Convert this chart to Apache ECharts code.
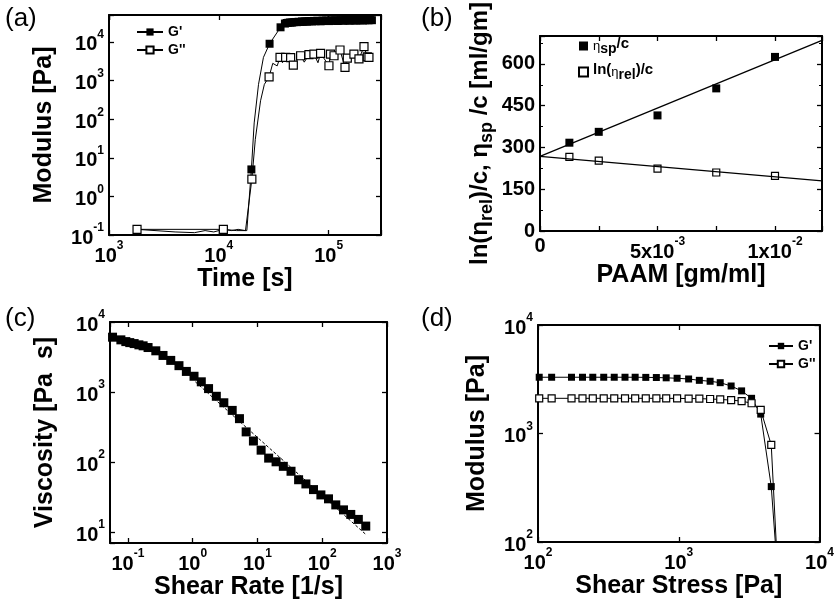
<!DOCTYPE html>
<html><head><meta charset="utf-8">
<script src="https://cdn.jsdelivr.net/npm/echarts@6/dist/echarts.min.js"></script>
<style>html,body{margin:0;padding:0;background:#fff}#c{width:837px;height:602px}</style>
</head><body><div id="c"></div><script>
// ---------- DATA ----------
// (a) Modulus vs time
const aGprime = [[1800,0.14],[11000,0.14],[14500,0.13,0],[18000,0.13,0],[19800,5],[21000,80,0],[23000,800,0],[25500,4000,0],[29000,9000],[36500,24000],
 [40000,30000],[41500,31000],[43000,31500],[44600,32000],[46200,31800],[47900,32500],[49600,33000],[51400,32600],[53300,33400],[55200,33000],
 [57200,34000],[59300,33500],[61400,34200],[63700,33800],[66000,34500],[68400,35000],[70900,34000],[73500,35200],[76100,34600],[78900,35500],
 [81800,35000],[84700,34300],[87800,35800],[91000,35200],[94300,36000],[97700,35400],[101000,34800],[105000,36200],[109000,35600],[113000,36500],
 [117000,35900],[121000,35000],[125000,36400],[130000,36800],[135000,35700],[140000,36200],[145000,37000],[150000,36400],[155000,35600],[161000,36900],
 [167000,37200],[173000,36300],[179000,35800],[186000,37000],[193000,36600],[200000,37400],[207000,36000],[215000,36800],[223000,37200],[231000,36500],
 [240000,37000],[248000,36700]];
const aGdouble = [[1800,0.14],[4000,0.12,0],[6000,0.115,0],[7500,0.13,0],[9000,0.12,0],[11000,0.14],[13000,0.13,0],[15000,0.14,0],[17500,0.13,0],
 [20000,2.8],[21500,30,0],[24000,300,0],[26000,800,0],[28700,1250],[31000,2800,0],[34000,2400,0],[36100,4000],[38000,2900,0],[40600,4000],[45100,3950],[47700,2500],
 [55600,4400],[60000,3000,0],[66200,4700],[73500,4870],[80000,2900,0],[84500,5070],[100700,2420],[104000,4870],[112000,4400],[127000,6200],
 [141000,2190],[148000,3800],[170000,4870],[189000,3630],[210000,7550],[225000,4100],[233000,4000]];
// (b) reduced / inherent viscosity vs concentration
const bConc = [0.00125,0.0025,0.005,0.0075,0.01];
const bEtaSpC = [317,356,415,512,625];
const bLnEtaRelC = [266,253,224,210,198];
const bFitSp = [[0,268],[0.012,684]];
const bFitRel = [[0,268],[0.012,180]];
// (c) viscosity vs shear rate
const cRate = [0.058,0.078,0.093,0.107,0.125,0.148,0.172,0.205,0.27,0.349,0.459,0.615,0.8,1.05,1.36,1.76,2.32,3.03,4.08,5.28,
 6.7,8.67,11.4,14.9,19.4,25.1,33,43.2,56,73.4,95.4,125,162,213,276,361,470];
const cVisc = [6070,5560,5250,5080,4920,4720,4570,4320,3880,3330,2830,2380,1970,1680,1400,1120,870,703,547,417,
 270,200,148,114,101,87,74,56,48.8,40.5,34,29.9,24.5,20.8,17.9,15.2,12.2];
const cPowerLaw = [[1.1,1400],[470,9.3]];
// (d) modulus vs shear stress
const dStress = [102,125,173,207,245,293,348,415,490,583,693,814,973,1175,1400,1670,1970,2355,2795,3290,3820,4540];
const dGprime = [3300,3300,3300,3300,3300,3300,3300,3300,3300,3290,3280,3260,3230,3180,3090,3030,2940,2740,2470,2110,1510,324];
const dGdouble = [2110,2110,2110,2110,2110,2110,2110,2110,2110,2110,2110,2110,2105,2100,2095,2080,2060,2030,1990,1900,1650,784];
const dEndStress = [4850,4920];
// tick labels for (b)
const bXTickLabels = {0:'0', 0.005:'{b|5x10}{e|-3}', 0.01:'{b|1x10}{e|-2}'};

// ---------- STYLE HELPERS ----------
const FONT = '"Liberation Sans", Arial, sans-serif';
const rich = {
  b:{fontSize:20,fontWeight:'bold',fontFamily:FONT,color:'#000',lineHeight:26,verticalAlign:'bottom'},
  e:{fontSize:12,fontWeight:'bold',fontFamily:FONT,color:'#000',lineHeight:13,verticalAlign:'top'}
};
function logLabel(v){ const e=Math.log10(v), r=Math.round(e); return Math.abs(e-r)<1e-3 ? '{b|10}{e|'+r+'}' : ''; }
const nameStyle = {fontSize:25,fontWeight:'bold',fontFamily:FONT,color:'#000'};
function mkAxis(grid, pos, type, min, max, extra){
  const isMain = (pos==='bottom'||pos==='left');
  const ax = {
    gridIndex:grid, position:pos, type:type, min:min, max:max,
    axisLine:{show:true,onZero:false,lineStyle:{color:'#000',width:2}},
    axisTick:{show:true,inside:true,length:5,lineStyle:{color:'#000',width:1.3}},
    splitLine:{show:false},
    axisLabel:{show:isMain,margin:5,color:'#000',fontSize:20,fontWeight:'bold',fontFamily:FONT,rich:rich},
    nameTextStyle:nameStyle, nameLocation:'middle'
  };
  if(type==='log'){ ax.logBase=10; ax.axisLabel.formatter=logLabel; }
  if(extra){ for(const k in extra){ if(k==='axisLabel'){Object.assign(ax.axisLabel, extra[k]);} else ax[k]=extra[k]; } }
  if(!isMain){ ax.name=''; }
  return ax;
}
function zip(xs, ys){ return xs.map((x,i)=>[x,ys[i]]); }
function pts(arr){ return arr.map(p => p.length>2 ? {value:[p[0],p[1]],symbol:'none'} : [p[0],p[1]]); }

const filled = {color:'#000',opacity:1};
const open = {color:'#fff',borderColor:'#000',borderWidth:1.2,opacity:1};
const lineS = {color:'#000',width:1};

const xAxes = [], yAxes = [];
// grid 0 (a)
xAxes.push(mkAxis(0,'bottom','log',1000,300000,{name:'Time [s]',nameGap:19}));
xAxes.push(mkAxis(0,'top','log',1000,300000));
yAxes.push(mkAxis(0,'left','log',0.1,50000,{name:'Modulus [Pa]',nameGap:52}));
yAxes.push(mkAxis(0,'right','log',0.1,50000));
// grid 1 (b)
const bx = {interval:0.0025,name:'PAAM [gm/ml]',nameGap:26,axisLabel:{formatter:v=>{for(const k in bXTickLabels){if(Math.abs(v-Number(k))<1e-6) return bXTickLabels[k];} return '';}}};
xAxes.push(mkAxis(1,'bottom','value',0,0.012,bx));
xAxes.push(mkAxis(1,'top','value',0,0.012,{interval:0.0025}));
yAxes.push(mkAxis(1,'left','value',0,700,{interval:150,minorTick:{show:true,splitNumber:2,length:3},
  name:'{m|ln(η}{s|rel}{m|)/c, η}{s|sp}{m| /c [ml/gm]}',nameGap:44,
  nameTextStyle:{rich:{m:{fontSize:24,fontWeight:'bold',fontFamily:FONT,color:'#000',lineHeight:32,verticalAlign:'middle'},
                        s:{fontSize:18,fontWeight:'bold',fontFamily:FONT,color:'#000',lineHeight:32,verticalAlign:'bottom'}}},
  axisLabel:{formatter:v=> v>650?'':String(v)}}));
yAxes.push(mkAxis(1,'right','value',0,700,{interval:150,minorTick:{show:true,splitNumber:2,length:3}}));
// grid 2 (c)
xAxes.push(mkAxis(2,'bottom','log',0.053,1000,{name:'Shear Rate [1/s]',nameGap:22}));
xAxes.push(mkAxis(2,'top','log',0.053,1000));
yAxes.push(mkAxis(2,'left','log',7,10000,{name:'Viscosity [Pa  s]',nameGap:52}));
yAxes.push(mkAxis(2,'right','log',7,10000));
// grid 3 (d)
xAxes.push(mkAxis(3,'bottom','log',100,10000,{name:'Shear Stress [Pa]',nameGap:23}));
xAxes.push(mkAxis(3,'top','log',100,10000));
yAxes.push(mkAxis(3,'left','log',100,10000,{name:'Modulus [Pa]',nameGap:48}));
yAxes.push(mkAxis(3,'right','log',100,10000));

const option = {
  animation:false,
  backgroundColor:'#fff',
  grid:[
    {left:109,top:15,width:272,height:220},
    {left:540,top:17,width:282,height:214},
    {left:110,top:322,width:277,height:221},
    {left:538,top:325,width:284,height:217}
  ],
  xAxis:xAxes, yAxis:yAxes,
  legend:[
    {left:131,top:20,orient:'vertical',itemGap:4,itemWidth:26,itemHeight:9,selectedMode:false,data:["G'","G''"],
     textStyle:{fontSize:14,fontWeight:'bold',fontFamily:FONT,color:'#000'}},
    {left:573,top:31,orient:'vertical',itemGap:6,itemWidth:9,itemHeight:9,selectedMode:false,data:['sp','rel'],
     formatter:n=> n==='sp' ? '{g|η}{s|sp}{n|/c}' : '{n|ln(}{g|η}{s|rel}{n|)/c}',
     textStyle:{color:'#000',rich:{
       n:{fontSize:15,fontWeight:'bold',fontFamily:FONT,color:'#000',lineHeight:20,verticalAlign:'top'},
       g:{fontSize:13,fontFamily:FONT,color:'#000',lineHeight:20,verticalAlign:'middle'},
       s:{fontSize:14,fontWeight:'bold',fontFamily:FONT,color:'#000',lineHeight:20,verticalAlign:'bottom'}}}},
    {left:763,top:334,orient:'vertical',itemGap:4,itemWidth:24,itemHeight:8,selectedMode:false,data:["G' ","G'' "],
     textStyle:{fontSize:14,fontWeight:'bold',fontFamily:FONT,color:'#000'}}
  ],
  graphic:[
    {type:'text',left:5,top:6,style:{text:'(a)',font:'26px '+FONT,fill:'#000'}},
    {type:'text',left:421,top:6,style:{text:'(b)',font:'26px '+FONT,fill:'#000'}},
    {type:'text',left:5,top:306,style:{text:'(c)',font:'26px '+FONT,fill:'#000'}},
    {type:'text',left:421,top:306,style:{text:'(d)',font:'26px '+FONT,fill:'#000'}}
  ],
  series:[
    {name:"G'",type:'line',xAxisIndex:0,yAxisIndex:0,data:pts(aGprime),symbol:'rect',symbolSize:8,itemStyle:filled,lineStyle:lineS},
    {name:"G''",type:'line',xAxisIndex:0,yAxisIndex:0,data:pts(aGdouble),symbol:'rect',symbolSize:8,itemStyle:open,lineStyle:lineS},
    {name:'fitSp',type:'line',xAxisIndex:2,yAxisIndex:2,data:bFitSp,symbol:'none',lineStyle:{color:'#000',width:1.3}},
    {name:'fitRel',type:'line',xAxisIndex:2,yAxisIndex:2,data:bFitRel,symbol:'none',lineStyle:{color:'#000',width:1.3}},
    {name:'sp',type:'scatter',xAxisIndex:2,yAxisIndex:2,data:zip(bConc,bEtaSpC),symbol:'rect',symbolSize:8,itemStyle:filled},
    {name:'rel',type:'scatter',xAxisIndex:2,yAxisIndex:2,data:zip(bConc,bLnEtaRelC),symbol:'rect',symbolSize:7,itemStyle:open},
    {name:'powerlaw',type:'line',xAxisIndex:4,yAxisIndex:4,data:cPowerLaw,symbol:'none',lineStyle:{color:'#000',width:1,type:[3,2]}},
    {name:'visc',type:'scatter',xAxisIndex:4,yAxisIndex:4,data:zip(cRate,cVisc),symbol:'rect',symbolSize:9,itemStyle:filled},
    {name:"G' ",type:'line',xAxisIndex:6,yAxisIndex:6,data:zip(dStress,dGprime).concat([{value:[dEndStress[0],100],symbol:'none'}]),symbol:'rect',symbolSize:7,itemStyle:filled,lineStyle:lineS},
    {name:"G'' ",type:'line',xAxisIndex:6,yAxisIndex:6,data:zip(dStress,dGdouble).concat([{value:[dEndStress[1],100],symbol:'none'}]),symbol:'rect',symbolSize:7,itemStyle:open,lineStyle:lineS}
  ]
};
const chart = echarts.init(document.getElementById('c'));
chart.setOption(option);
</script></body></html>
